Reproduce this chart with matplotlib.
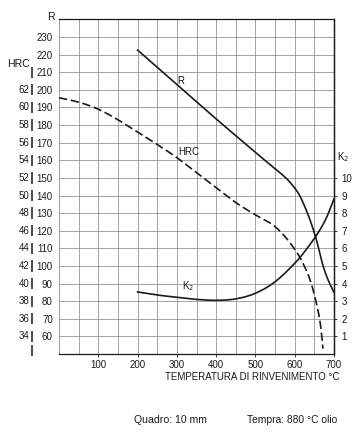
import matplotlib
matplotlib.use("Agg")
import matplotlib.pyplot as plt
import matplotlib.transforms as mtransforms
import numpy as np

plt.rcParams['font.family'] = ['Liberation Sans', 'DejaVu Sans']

# ---- data ----
temp_R = [200, 300, 400, 500, 540, 570, 590, 610, 625, 640, 655, 665, 675, 687, 700]
R_vals = [222.6, 203.0, 183.5, 164.5, 157.0, 151.5, 147.0, 141.0, 134.0, 125.5, 115.0, 106.0, 98.0, 91.0, 85.0]

temp_HRC = [0, 50, 100, 150, 200, 250, 300, 350, 400, 450, 500, 540, 570, 600, 620, 640, 655, 665, 672]
HRC_vals = [61.1, 60.6, 59.8, 58.6, 57.2, 55.8, 54.3, 52.6, 50.9, 49.2, 47.8, 46.8, 45.6, 43.9, 42.4, 40.3, 37.8, 35.5, 32.6]

temp_K2 = [200, 250, 300, 350, 400, 450, 500, 550, 600, 630, 660, 680, 700]
K2_vals = [3.52, 3.35, 3.22, 3.10, 3.05, 3.13, 3.45, 4.10, 5.15, 5.95, 6.90, 7.70, 8.80]

x_ticks = [100, 200, 300, 400, 500, 600, 700]
R_ticks = [60, 70, 80, 90, 100, 110, 120, 130, 140, 150, 160, 170, 180, 190, 200, 210, 220, 230]
HRC_ticks = [34, 36, 38, 40, 42, 44, 46, 48, 50, 52, 54, 56, 58, 60, 62]
K2_ticks = [1, 2, 3, 4, 5, 6, 7, 8, 9, 10]

x_title = "TEMPERATURA DI RINVENIMENTO °C"
footer_left = "Quadro: 10 mm"
footer_right = "Tempra: 880 °C olio"


# HRC and K2 scales relative to the R scale
def hrc_to_r(h):
    return (np.asarray(h, dtype=float) - 22.0) * 5.0


def k2_to_r(k):
    return np.asarray(k, dtype=float) * 10.0 + 50.0


def smooth(xs, ys, sx=700.0, sy=190.0, n=12):
    """Catmull-Rom curve through the given points (for drawing only)."""
    p = np.column_stack([np.asarray(xs, float) / sx, np.asarray(ys, float) / sy])
    p = np.vstack([2 * p[0] - p[1], p, 2 * p[-1] - p[-2]])
    out = []
    t = np.linspace(0, 1, n, endpoint=False)[:, None]
    for i in range(1, len(p) - 2):
        p0, p1, p2, p3 = p[i - 1], p[i], p[i + 1], p[i + 2]
        seg = 0.5 * ((2 * p1) + (-p0 + p2) * t + (2 * p0 - 5 * p1 + 4 * p2 - p3) * t ** 2
                     + (-p0 + 3 * p1 - 3 * p2 + p3) * t ** 3)
        out.append(seg)
    out.append(p[-2][None, :])
    out = np.vstack(out)
    return out[:, 0] * sx, out[:, 1] * sy


W, H = 356, 432
fig = plt.figure(figsize=(W / 100, H / 100), dpi=100)
fig.patch.set_facecolor('white')
L, Rr, T, B = 59, 334, 19.4, 354
ax = fig.add_axes([L / W, 1 - B / H, (Rr - L) / W, (B - T) / H])
ax.set_xlim(0, 700)
ax.set_ylim(50, 240)

fs = 7.0
ink = '#1a1a1a'

# grid
for gx in np.arange(50, 700, 50):
    ax.axvline(gx, color='0.55', lw=0.55, zorder=1)
for gy in np.arange(60, 240, 10):
    ax.axhline(gy, color='0.55', lw=0.55, zorder=1)

for s in ax.spines.values():
    s.set_color(ink)
    s.set_linewidth(0.9)
ax.spines['left'].set_color('0.55')
ax.spines['left'].set_linewidth(0.6)

# x axis
ax.set_xticks(x_ticks)
ax.set_xticklabels([str(v) for v in x_ticks], fontsize=fs, color=ink)
ax.tick_params(axis='x', length=2.5, width=0.6, pad=2, colors=ink)

# left R axis
ax.set_yticks(R_ticks)
ax.set_yticklabels([str(v) for v in R_ticks], fontsize=fs, color=ink)
ax.tick_params(axis='y', length=0, pad=4.5, colors=ink)

# right K2 axis
ax2 = ax.twinx()
ax2.set_ylim(0, 19)
ax2.set_yticks(K2_ticks)
ax2.set_yticklabels([str(v) for v in K2_ticks], fontsize=fs, color=ink)
ax2.tick_params(axis='y', length=2.5, width=0.6, pad=3, colors=ink)
for s in ax2.spines.values():
    s.set_visible(False)
ax2.spines['right'].set_visible(True)
ax2.spines['right'].set_color(ink)
ax2.spines['right'].set_linewidth(0.9)

# HRC labels and bars on the far left
trans = mtransforms.blended_transform_factory(ax.transAxes, ax.transData)
xh_text = (29.5 - L) / (Rr - L)
xh_bar = (32.5 - L) / (Rr - L)
for h, r in zip(HRC_ticks, hrc_to_r(HRC_ticks)):
    ax.text(xh_text, r, str(h), transform=trans, ha='right', va='center',
            fontsize=fs, color=ink, clip_on=False)
    ax.plot([xh_bar, xh_bar], [r - 3.2, r + 3.2], transform=trans, color=ink,
            lw=1.1, clip_on=False, solid_capstyle='butt')
for r in [210, 52]:
    ax.plot([xh_bar, xh_bar], [r - 3.2, r + 3.2], transform=trans, color=ink,
            lw=1.1, clip_on=False, solid_capstyle='butt')

# axis titles
ax.text((51 - L) / (Rr - L), 241.4, "R", transform=trans, ha='center', va='center',
        fontsize=fs + 0.6, color=ink, clip_on=False)
ax.text((19 - L) / (Rr - L), 214.5, "HRC", transform=trans, ha='center', va='center',
        fontsize=fs + 0.6, color=ink, clip_on=False)
ax.text(1 + (343 - Rr) / (Rr - L), k2_to_r(11.2), "K$_2$", transform=trans,
        ha='center', va='center', fontsize=fs, color=ink, clip_on=False)

# curves
xr, yr = smooth(temp_R, R_vals)
ax.plot(xr, yr, color=ink, lw=1.2, zorder=3, clip_on=False)
xh, yh = smooth(temp_HRC, hrc_to_r(HRC_vals))
ax.plot(xh, yh, color=ink, lw=1.2, zorder=3, dashes=(5, 2.2), clip_on=False)
xk, yk = smooth(temp_K2, k2_to_r(K2_vals))
ax.plot(xk, yk, color=ink, lw=1.2, zorder=3, clip_on=False)

# curve labels
ax.text(310, 205, "R", fontsize=fs, color=ink, ha='center', va='center', zorder=4)
ax.text(330, 164.5, "HRC", fontsize=fs, color=ink, ha='center', va='center', zorder=4)
ax.text(328, 88.5, "K$_2$", fontsize=fs, color=ink, ha='center', va='center', zorder=4)

# x axis title and footer
fig.text(252 / W, 1 - 377 / H, x_title, fontsize=7.0, color=ink, ha='center', va='center')
fig.text(170.5 / W, 1 - 420 / H, footer_left, fontsize=7.6, color=ink, ha='center', va='center')
fig.text(292.5 / W, 1 - 420 / H, footer_right, fontsize=7.4, color=ink, ha='center', va='center')

fig.savefig("out.png", dpi=100, facecolor='white')
